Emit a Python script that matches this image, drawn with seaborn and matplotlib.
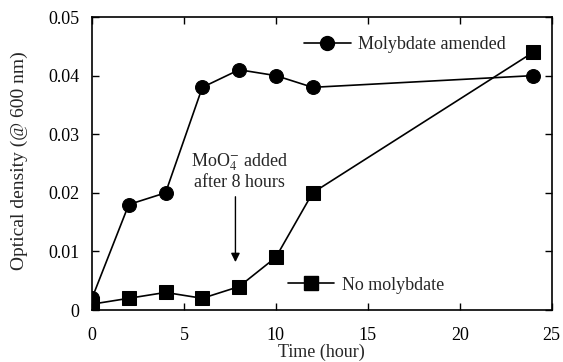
import matplotlib.pyplot as plt
import pandas as pd
import seaborn as sns
from matplotlib.lines import Line2D

# Values
time_h = [0, 2, 4, 6, 8, 10, 12, 24]
od_molybdate = [0.002, 0.018, 0.020, 0.038, 0.041, 0.040, 0.038, 0.040]
od_none = [0.001, 0.002, 0.003, 0.002, 0.004, 0.009, 0.020, 0.044]
x_ticks = [0, 5, 10, 15, 20, 25]
y_ticks = [0, 0.01, 0.02, 0.03, 0.04, 0.05]
y_tick_labels = ["0", "0.01", "0.02", "0.03", "0.04", "0.05"]

sns.set_theme(style="ticks")
plt.rcParams["font.family"] = ["Liberation Serif", "DejaVu Serif"]
plt.rcParams["mathtext.fontset"] = "stix"

df = pd.concat(
    [
        pd.DataFrame({"t": time_h, "od": od_molybdate, "grp": "Molybdate amended"}),
        pd.DataFrame({"t": time_h, "od": od_none, "grp": "No molybdate"}),
    ]
)

fig = plt.figure(figsize=(5.63, 3.62), dpi=100)
ax = fig.add_axes([0.1634, 0.1436, 0.8166, 0.8094])

sns.lineplot(
    data=df,
    x="t",
    y="od",
    hue="grp",
    style="grp",
    markers={"Molybdate amended": "o", "No molybdate": "s"},
    dashes=False,
    palette={"Molybdate amended": "black", "No molybdate": "black"},
    markersize=10,
    markeredgecolor="black",
    linewidth=1.2,
    legend=False,
    ax=ax,
)

fs = 13
ax.set_xlim(0, 25)
ax.set_ylim(0, 0.05)
ax.set_xticks(x_ticks)
ax.set_yticks(y_ticks)
ax.set_yticklabels(y_tick_labels)
ax.tick_params(direction="in", top=True, right=True, length=5, width=1,
               labelsize=fs, colors="black")
ax.tick_params(axis="x", pad=12)
ax.tick_params(axis="y", pad=9)
for s in ax.spines.values():
    s.set_linewidth(1.2)
    s.set_color("black")
ax.set_xlabel("Time (hour)", fontsize=fs, labelpad=0)
ax.set_ylabel("Optical density (@ 600 nm)", fontsize=14)
ax.yaxis.set_label_coords(-0.14, 0.51)

h1 = Line2D([], [], color="black", marker="o", markersize=10, linewidth=1.2)
h2 = Line2D([], [], color="black", marker="s", markersize=10, linewidth=1.2)
leg1 = ax.legend([h1], ["Molybdate amended"], loc="center left",
                 bbox_to_anchor=(0.425, 0.905), frameon=False, fontsize=fs,
                 handlelength=2.6, handletextpad=0.4)
ax.add_artist(leg1)
ax.legend([h2], ["No molybdate"], loc="center left",
          bbox_to_anchor=(0.39, 0.085), frameon=False, fontsize=fs,
          handlelength=2.6, handletextpad=0.4)

ax.annotate("", xy=(7.8, 0.0077), xytext=(7.8, 0.0198),
            arrowprops=dict(arrowstyle="-|>", color="black", lw=1,
                            mutation_scale=13))
ax.text(8.0, 0.0237, "MoO$_4^{-}$ added\nafter 8 hours", ha="center",
        va="center", fontsize=fs, linespacing=1.05)

fig.savefig("out.png", dpi=100)
